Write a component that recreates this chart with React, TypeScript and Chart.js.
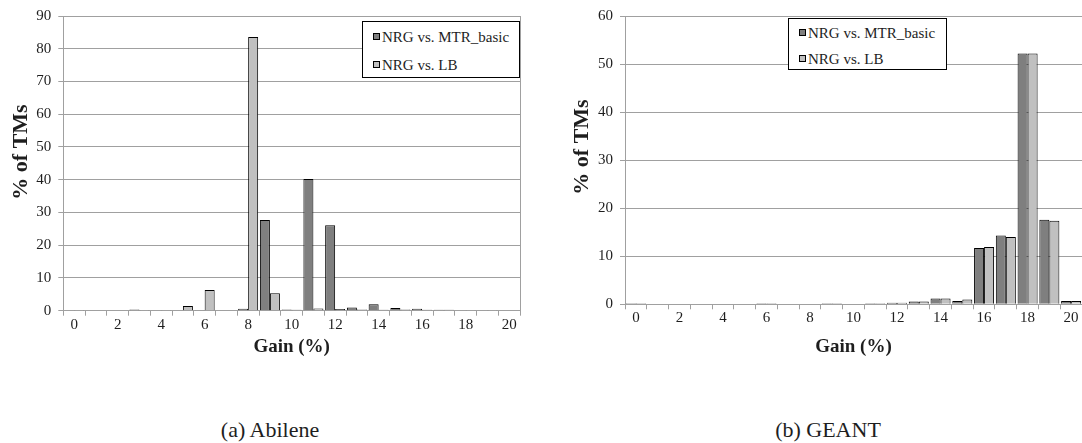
import React, { useEffect, useRef } from 'react';
import { Chart, registerables } from 'chart.js';

Chart.register(...registerables);

// ---------- data ----------
const categories = ['0', '1', '2', '3', '4', '5', '6', '7', '8', '9', '10', '11', '12', '13', '14', '15', '16', '17', '18', '19', '20'];
const seriesLabels = ['NRG vs. MTR_basic', 'NRG vs. LB'];

const abileneMtrBasic = [0, 0, 0, 0.4, 0, 0, 0.2, 0, 0.6, 27.7, 0.4, 40.2, 26.1, 1.0, 2.0, 0.8, 0.6, 0.3, 0, 0, 0];
const abileneLb = [0.2, 0, 0, 0.2, 0.2, 1.4, 6.3, 0, 83.6, 5.3, 0.3, 0.7, 0.5, 0.4, 0.3, 0.4, 0.3, 0.3, 0.2, 0.2, 0];

const geantMtrBasic = [0.2, 0, 0, 0, 0, 0, 0.2, 0, 0, 0.2, 0, 0.2, 0.3, 0.6, 1.2, 0.7, 11.7, 14.3, 52.2, 17.6, 0.7];
const geantLb = [0.2, 0, 0, 0, 0, 0, 0.2, 0, 0, 0.2, 0, 0.2, 0.3, 0.6, 1.2, 1.0, 11.9, 14.0, 52.2, 17.4, 0.7];

const abileneYMax = 90;
const geantYMax = 60;
const yStep = 10;

const xTitle = 'Gain (%)';
const yTitle = '% of TMs';
const captions = ['(a) Abilene', '(b) GEANT'];

// ---------- styles ----------
const FONT = '"Liberation Serif", Tinos, "Times New Roman", Times, serif';
const DARK = '#7f7f7f';
const LIGHT = '#c0c0c0';
const GRID = '#a0a0a0';
const TEXT = '#1e1e1e';
const CANVAS_H = 370;
const X_TITLE_SIZE = 19;

// axis title for the value axis, placed like the original (slightly above centre)
const yTitlePlugin = {
  id: 'yTitleOffset',
  afterDraw(chart: any, _args: any, opts: any) {
    const { ctx } = chart;
    ctx.save();
    ctx.translate(opts.x, opts.y);
    ctx.rotate(-Math.PI / 2);
    ctx.font = `bold 22px ${FONT}`;
    ctx.fillStyle = TEXT;
    ctx.textAlign = 'center';
    ctx.textBaseline = 'middle';
    ctx.fillText(opts.text, 0, 0);
    ctx.restore();
  },
};

type PanelProps = {
  left: number;
  width: number;
  plotLeft: number;
  plotRight: number;
  plotTop: number;
  plotBottom: number;
  yMax: number;
  yTitleX: number;
  yTitleY: number;
  mtr: number[];
  lb: number[];
};

function Panel(p: PanelProps) {
  const ref = useRef<HTMLCanvasElement | null>(null);
  useEffect(() => {
    if (!ref.current) return;
    const titleLH = X_TITLE_SIZE * 1.2;
    const xTitleCenter = 347;
    const xH = xTitleCenter + titleLH / 2 - p.plotBottom;
    const chart = new Chart(ref.current, {
      type: 'bar',
      data: {
        labels: categories,
        datasets: [
          {
            label: seriesLabels[0],
            data: p.mtr,
            backgroundColor: DARK,
            borderColor: '#000',
            borderWidth: 1,
            categoryPercentage: 0.92,
            barPercentage: 1,
          },
          {
            label: seriesLabels[1],
            data: p.lb,
            backgroundColor: LIGHT,
            borderColor: '#000',
            borderWidth: 1,
            categoryPercentage: 0.92,
            barPercentage: 1,
          },
        ],
      },
      plugins: [yTitlePlugin],
      options: {
        animation: false,
        responsive: false,
        maintainAspectRatio: false,
        font: { family: FONT },
        layout: {
          padding: {
            left: 0,
            top: p.plotTop,
            right: p.width - p.plotRight,
            bottom: CANVAS_H - p.plotBottom - xH,
          },
        },
        plugins: {
          legend: { display: false },
          tooltip: { enabled: false },
          yTitleOffset: { text: yTitle, x: p.yTitleX, y: p.yTitleY },
        },
        scales: {
          x: {
            grid: {
              offset: true,
              drawOnChartArea: true,
              color: (c: any) => (c.type === 'tick' ? 'rgba(0,0,0,0)' : GRID),
              tickColor: GRID,
              tickLength: 5,
            },
            border: { color: GRID, width: 1 },
            ticks: {
              autoSkip: false,
              maxRotation: 0,
              padding: 0,
              color: TEXT,
              font: { family: FONT, size: 15 },
              callback: (_v: any, i: number) => (i % 2 === 0 ? categories[i] : ''),
            },
            title: {
              display: true,
              text: xTitle,
              color: TEXT,
              font: { family: FONT, size: X_TITLE_SIZE, weight: 'bold' },
              padding: 0,
            },
            afterFit: (s: any) => {
              s.height = xH;
            },
          },
          y: {
            min: 0,
            max: p.yMax,
            ticks: {
              stepSize: yStep,
              padding: 7,
              color: TEXT,
              font: { family: FONT, size: 15 },
            },
            grid: { color: GRID, tickColor: GRID, tickLength: 5 },
            border: { color: GRID, width: 1 },
            title: { display: false },
            afterFit: (s: any) => {
              s.width = p.plotLeft;
            },
          },
        },
      } as any,
    });
    return () => chart.destroy();
  }, []);
  return (
    <canvas
      ref={ref}
      width={p.width}
      height={CANVAS_H}
      style={{ position: 'absolute', left: p.left, top: 0, width: p.width, height: CANVAS_H }}
    />
  );
}

function Legend({ left, top, width, height, rows }: { left: number; top: number; width: number; height: number; rows: number[] }) {
  const colors = [DARK, LIGHT];
  return (
    <div
      style={{
        position: 'absolute',
        left,
        top,
        width,
        height,
        boxSizing: 'border-box',
        border: '1px solid #000',
        background: '#fff',
      }}
    >
      {seriesLabels.map((lab, i) => (
        <div key={lab}>
          <div
            style={{
              position: 'absolute',
              left: 10,
              top: rows[i] - 4,
              width: 7,
              height: 7,
              boxSizing: 'border-box',
              border: '1px solid #000',
              background: colors[i],
            }}
          />
          <div
            style={{
              position: 'absolute',
              left: 19,
              top: rows[i] - 9,
              fontFamily: FONT,
              fontSize: 15,
              lineHeight: '18px',
              color: TEXT,
              whiteSpace: 'nowrap',
            }}
          >
            {lab}
          </div>
        </div>
      ))}
    </div>
  );
}

export default function App() {
  return (
    <div style={{ position: 'absolute', left: 0, top: 0, width: 1082, height: 443, background: '#fff', overflow: 'hidden', fontFamily: FONT }}>
      <Panel
        left={0}
        width={540}
        plotLeft={63.3}
        plotRight={520}
        plotTop={15}
        plotBottom={310.7}
        yMax={abileneYMax}
        yTitleX={21}
        yTitleY={152}
        mtr={abileneMtrBasic}
        lb={abileneLb}
      />
      <Panel
        left={540}
        width={542}
        plotLeft={85}
        plotRight={542}
        plotTop={12.3}
        plotBottom={304.3}
        yMax={geantYMax}
        yTitleX={42.5}
        yTitleY={147}
        mtr={geantMtrBasic}
        lb={geantLb}
      />
      <Legend left={362} top={21} width={158} height={57} rows={[14.5, 42.5]} />
      <Legend left={788} top={18} width={159} height={52} rows={[13.5, 39.5]} />
      {captions.map((c, i) => (
        <div
          key={c}
          style={{
            position: 'absolute',
            left: (i === 0 ? 270 : 828) - 120,
            width: 240,
            top: 417,
            textAlign: 'center',
            fontFamily: FONT,
            fontSize: 22,
            lineHeight: '26px',
            color: TEXT,
          }}
        >
          {c}
        </div>
      ))}
    </div>
  );
}
